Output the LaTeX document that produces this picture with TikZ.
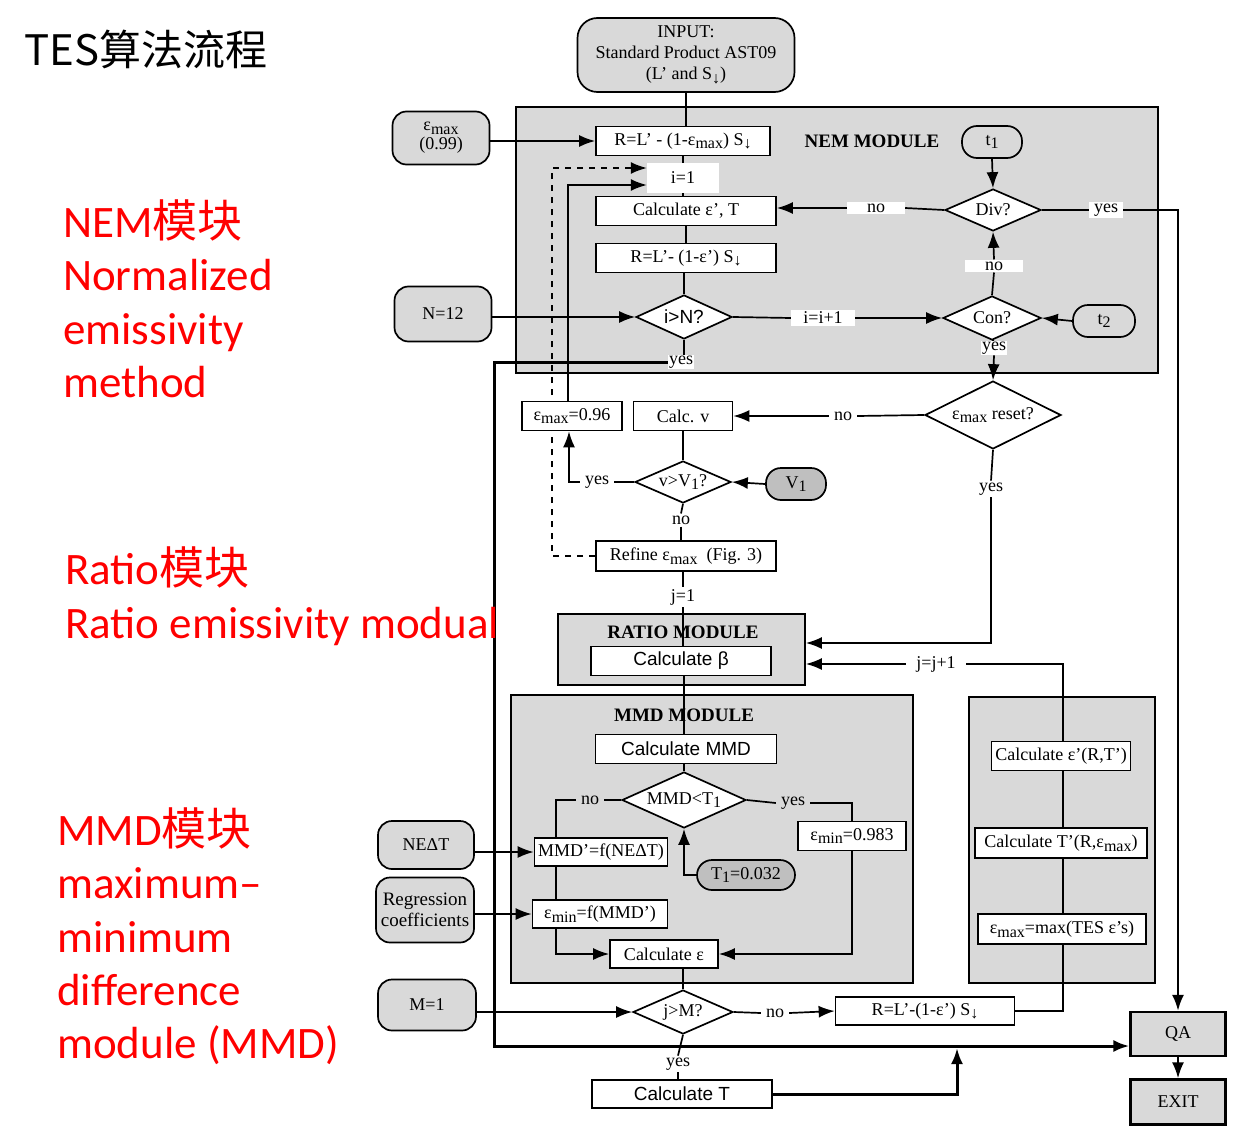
\documentclass[tikz,border=0pt]{standalone}
\usepackage{fontspec}
\setmainfont{Liberation Serif}
\setsansfont{Liberation Sans}
\newfontfamily\cjk{Noto Sans CJK SC}
\newfontfamily\cali{Carlito}
\usetikzlibrary{shapes.geometric,arrows.meta,calc}
\newcommand\mysub[1]{\raisebox{-0.45ex}{\fontsize{16}{16}\selectfont #1}}
\pgfdeclarelayer{mods}\pgfdeclarelayer{back}\pgfsetlayers{mods,back,main}
\tikzset{
 base/.style={line width=1.7pt, font=\fontsize{18}{21}\selectfont, inner sep=2pt},
 box/.style={base, draw, fill=white, minimum height=29pt},
 sbox/.style={box, font=\sffamily\fontsize{19}{21}\selectfont},
 dia/.style={base, draw, diamond, aspect=2, fill=white, inner sep=0pt},
 term/.style={base, draw, fill=black!15, rounded corners=14pt, align=center},
 oval/.style={base, draw, rounded corners=15pt, minimum height=32pt},
 lbl/.style={font=\fontsize{18}{21}\selectfont, fill=white, inner sep=2pt, inner xsep=5pt},
 module/.style={draw, line width=1.7pt, fill=black!15, inner sep=0pt},
 mtitle/.style={font=\bfseries\fontsize{19}{21}\selectfont},
 arr/.style={-{Latex[length=16pt,width=12pt]}},
 ln/.style={line width=1.7pt},
 thk/.style={line width=3pt},
 redtxt/.style={anchor=base west, inner sep=0pt, text=red, font=\cali\fontsize{45}{52}\selectfont},
}
\begin{document}
\begin{tikzpicture}[x=1pt,y=-1pt]
\useasboundingbox (0,0) rectangle (1246,1134);

% ---------- left annotations ----------
\node[anchor=base west, inner sep=0pt, font=\cjk\fontsize{42}{48}\selectfont] (title) at (24,66) {TES算法流程};
\node[redtxt] (nemA) at (63,237) {NEM{\cjk 模块}};
\node[redtxt] (nemB) at (63,290) {Normalized};
\node[redtxt] (nemC) at (63,344) {emissivity};
\node[redtxt] (nemD) at (63,397) {method};
\node[redtxt] (ratA) at (65,584) {Ratio{\cjk 模块}};
\node[redtxt] (ratB) at (65,638) {Ratio emissivity modual};
\node[redtxt] (mmdA) at (57,845) {MMD{\cjk 模块}};
\node[redtxt] (mmdB) at (57,898) {maximum–};
\node[redtxt] (mmdC) at (57,952) {minimum};
\node[redtxt] (mmdD) at (57,1005) {difference};
\node[redtxt] (mmdE) at (57,1058) {module (MMD)};

% ---------- module backgrounds ----------
\begin{pgfonlayer}{mods}
\node[module, minimum width=642pt, minimum height=266pt] (nem) at (837,240) {};
\node[module, minimum width=247pt, minimum height=71pt] (ratio) at (681.5,649.5) {};
\node[module, minimum width=402pt, minimum height=288pt] (mmd) at (712,839) {};
\node[module, minimum width=186pt, minimum height=286pt] (rmod) at (1062,840) {};
\end{pgfonlayer}

% ---------- NEM module ----------
\node[term, minimum width=217pt, minimum height=74pt, rounded corners=20pt, font=\fontsize{18}{21}\selectfont] (inp) at (686,55) {INPUT:\\Standard Product AST09\\(L' and S\mysub{↓})};
\node[term, minimum width=97pt, minimum height=53pt, font=\fontsize{18}{19}\selectfont] (emax) at (441,138) {ε\mysub{max}\\(0.99)};
\node[box, minimum width=174pt] (r1) at (683,141) {R=L' - (1-ε\mysub{max}) S\mysub{↓}};
\node[mtitle] (nemt) at (872,141) {NEM MODULE};
\node[oval, minimum width=60pt] (t1) at (992,142) {t\mysub{1}};
\node[lbl, minimum width=72pt, minimum height=30pt] (i1) at (683,178) {i=1};
\node[box, minimum width=180pt] (calc1) at (686,211) {Calculate ε', T};
\node[box, minimum width=180pt] (r2) at (686,258) {R=L'- (1-ε') S\mysub{↓}};
\node[dia, minimum width=96pt, minimum height=44pt, font=\sffamily\fontsize{19}{21}\selectfont] (iN) at (684,317) {i>N?};
\node[term, minimum width=97pt, minimum height=55pt] (n12) at (443,314) {N=12};
\node[lbl, inner xsep=12pt] (iinc) at (823,318) {i=i+1};
\node[dia, minimum width=98pt, minimum height=44pt] (con) at (992,318) {Con?};
\node[oval, minimum width=62pt] (t2) at (1104,321) {t\mysub{2}};
\node[dia, minimum width=96pt, minimum height=42pt] (div) at (993,210) {Div?};
\node[lbl, inner xsep=20pt] (no1) at (876,208) {no};
\node[lbl] (yes1) at (1106,210) {yes};
\node[lbl, inner xsep=20pt] (no2) at (994,266) {no};
\node[lbl, inner sep=1pt] (yes2) at (994,348) {yes};
\node[lbl, inner sep=1pt] (yes3) at (681,362) {yes};

% ---------- middle section ----------
\node[dia, minimum width=136pt, minimum height=68pt] (reset) at (993,415) {ε\mysub{max} reset?};
\node[lbl] (no3) at (843,416) {no};
\node[lbl] (yes4) at (991,489) {yes};
\node[box, minimum width=100pt] (e96) at (572,416) {ε\mysub{max}=0.96};
\node[box, minimum width=99pt] (calcv) at (683,416) {Calc. v};
\node[dia, minimum width=96pt, minimum height=42pt] (vv1) at (683,482) {v>V\mysub{1}?};
\node[oval, minimum width=60pt, fill=black!25] (V1) at (796,484) {V\mysub{1}};
\node[lbl] (yes5) at (597,482) {yes};
\node[lbl] (no4) at (681,520) {no};
\node[box, minimum width=180pt, minimum height=30pt] (refine) at (686,556) {Refine ε\mysub{max}\ \ (Fig. 3)};
\node[lbl] (j1) at (683,597) {j=1};

% ---------- ratio module ----------
\node[mtitle] (ratiot) at (683,632) {RATIO MODULE};
\node[sbox, minimum width=180pt] (beta) at (681,661) {Calculate β};
\node[lbl, inner xsep=10pt] (jinc) at (936,664) {j=j+1};

% ---------- MMD module ----------
\node[mtitle] (mmdt) at (684,715) {MMD MODULE};
\node[sbox, minimum width=181pt] (cmmd) at (686,749) {Calculate MMD};
\node[dia, minimum width=124pt, minimum height=56pt] (mt) at (684,800) {MMD<T\mysub{1}};
\node[lbl, fill=black!15] (no5) at (590,800) {no};
\node[lbl, fill=black!15] (yes6) at (793,803) {yes};
\node[box, minimum width=108pt] (emin983) at (852,836) {ε\mysub{min}=0.983};
\node[oval, minimum width=98pt, minimum height=30pt, fill=black!25] (T1) at (746,875) {T\mysub{1}=0.032};
\node[box, minimum width=133pt, minimum height=28pt] (mmdp) at (601,852) {MMD'=f(NEΔT)};
\node[box, minimum width=135pt, minimum height=28pt] (eminf) at (600,914) {ε\mysub{min}=f(MMD')};
\node[box, minimum width=108pt, minimum height=28pt] (calce) at (664,954) {Calculate ε};
\node[term, minimum width=96pt, minimum height=48pt] (neat) at (426,845) {NEΔT};
\node[term, minimum width=98pt, minimum height=65pt, inner sep=1pt, font=\fontsize{19}{21}\selectfont] (reg) at (425,910) {Regression\\coefficients};

% ---------- right module ----------
\node[box, minimum width=139pt] (ce) at (1061,756) {Calculate ε'(R,T')};
\node[box, minimum width=172pt, minimum height=30pt] (ct) at (1061,843) {Calculate T'(R,ε\mysub{max})};
\node[box, minimum width=168pt, minimum height=30pt] (em) at (1062,929) {ε\mysub{max}=max(TES ε's)};

% ---------- bottom ----------
\node[dia, minimum width=100pt, minimum height=44pt] (jm) at (683,1012) {j>M?};
\node[term, minimum width=98pt, minimum height=51pt] (m1) at (427,1005) {M=1};
\node[lbl] (no6) at (775,1013) {no};
\node[box, minimum width=179pt, minimum height=28pt] (r3) at (925,1011) {R=L'-(1-ε')\ S\mysub{↓}};
\node[lbl] (yes7) at (678,1064) {yes};
\node[sbox, minimum width=180pt, minimum height=28pt] (calct) at (682,1094) {Calculate T};
\node[box, line width=2.2pt, fill=black!15, minimum width=95pt, minimum height=44pt] (qa) at (1178,1034) {QA};
\node[box, line width=2.2pt, fill=black!15, minimum width=95pt, minimum height=45pt] (exit) at (1178,1102) {EXIT};

\coordinate (tl) at (494,362);
\coordinate (bl) at (494,1046);
\coordinate (jr) at (1063,664);
\coordinate (cu) at (957,1048);

% ---------- connectors ----------
\begin{pgfonlayer}{back}
\draw[ln] (inp.south) -- (inp.south |- r1.north);
\draw[ln,arr] (emax.east |- r1.west) -- (r1.west);
\draw[ln] (r1.south) -- (r1.south |- calc1.north);
\draw[ln] (calc1.south) -- (r2.north);
\draw[ln] (r2.south -| iN.north) -- (iN.north);
\draw[ln,arr] (n12.east |- iN.west) -- (iN.west);
\draw[ln] (iN.east) -- (iinc.west);
\draw[ln,arr] (iinc.east) -- (con.west);
\draw[ln,arr] (t2.west) -- (con.east);
\draw[ln] (con.north) -- (no2.south);
\draw[ln,arr] (no2.north) -- (div.south);
\draw[ln,arr] (t1.south) -- (div.north);
\draw[ln] (div.west) -- (no1.east);
\draw[ln,arr] (no1.west) -- (no1.west -| calc1.east);
\draw[ln] (div.east) -- (yes1.west);
\draw[line width=2.4pt,arr] (yes1.east) -| (qa.north);
\draw[ln] (con.south) -- (yes2.north);
\draw[ln,arr] (yes2.south) -- (reset.north);
\draw[ln] (iN.south) -- (iN.south |- yes3.north);
\draw[thk,arr] (yes3.west) -- (tl) -- (bl) -- (bl -| qa.west);
\draw[ln,dashed,dash pattern=on 6pt off 6pt,arr] (refine.west) -- ++(-43,0) |- ([yshift=10pt]i1.west);
\draw[ln,arr] ([xshift=-4pt]e96.north) |- ([yshift=-7pt]i1.west);
% middle
\draw[ln] (reset.west) -- (no3.east);
\draw[ln,arr] (no3.west) -- (calcv.east);
\draw[ln] (reset.south) -- (yes4.north);
\draw[ln,arr] (yes4.south) |- ([yshift=6.5pt]ratio.east);
\draw[ln] (calcv.south) -- (vv1.north);
\draw[ln,arr] (V1.west) -- (vv1.east);
\draw[ln] (vv1.west) -- (yes5.east);
\draw[ln,arr] (yes5.west) -| ([xshift=-3pt]e96.south);
\draw[ln] (vv1.south) -- (no4.north);
\draw[ln] (no4.south) -- (no4.south |- refine.north);
\draw[ln] (refine.south -| j1.north) -- (j1.north);
\draw[ln] (j1.south) -- (j1.south |- beta.north);
\draw[ln] (beta.south -| mmdt.north) -- (mmdt.north |- cmmd.north);
\draw[ln] (cmmd.south -| mt.north) -- (mt.north);
% MMD
\draw[ln] (mt.west) -- (no5.east);
\draw[ln,arr] (no5.west) -| ([xshift=-53pt]calce.west) |- (calce.west);
\draw[ln] (mt.east) -- (yes6.west);
\draw[ln] (yes6.east) -| (emin983.north);
\draw[ln,arr] (emin983.south) |- (calce.east);
\draw[ln,arr] (T1.west) -| (mt.south);
\draw[ln,arr] (neat.east |- mmdp.west) -- (mmdp.west);
\draw[ln,arr] (reg.east |- eminf.west) -- (eminf.west);
\draw[ln] (calce.south -| jm.north) -- (jm.north);
% bottom
\draw[ln,arr] (m1.east |- jm.west) -- (jm.west);
\draw[ln] (jm.east) -- (no6.west);
\draw[ln,arr] (no6.east) -- (r3.west);
\draw[ln] (r3.east) -| (jr) -- (jinc.east);
\draw[ln,arr] (jinc.west) -- (jinc.west -| ratio.east);
\draw[ln] (jm.south) -- (yes7.north);
\draw[ln] (yes7.south) -- (yes7.south |- calct.north);
\draw[thk,arr] (calct.east) -| (cu);
\draw[line width=2.2pt,arr] (qa.south) -- (exit.north);
\end{pgfonlayer}
\end{tikzpicture}
\end{document}
